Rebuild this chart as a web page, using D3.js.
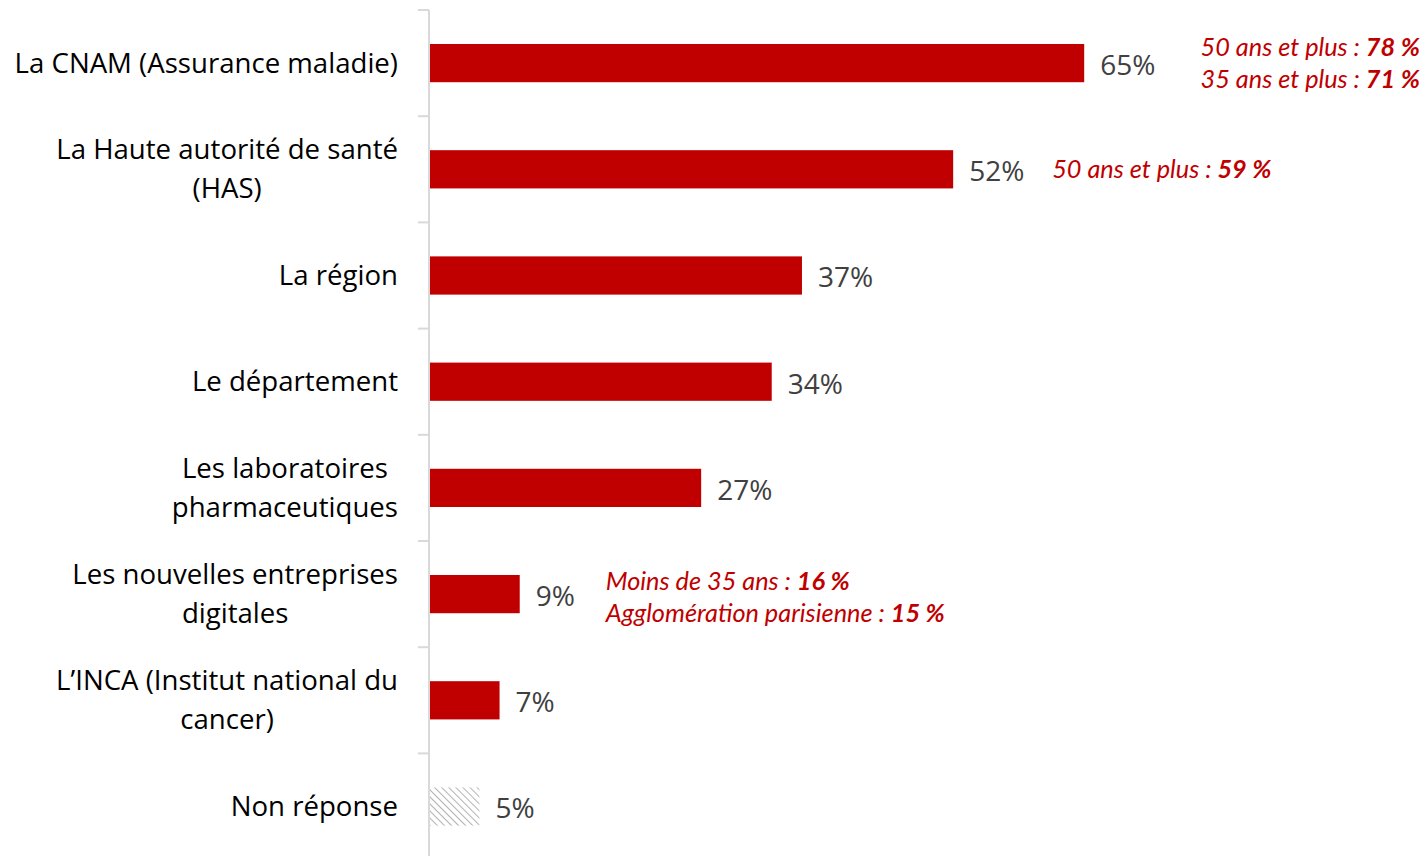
<!DOCTYPE html>
<html>
<head>
<meta charset="utf-8">
<script src="https://cdn.jsdelivr.net/npm/d3@7"></script>
<style>
	body { margin: 0; background: #fff; }
	.catLabel { font-family: "Open Sans", sans-serif; font-size: 27.6px; fill: #000; }
	.valLabel { font-family: "Open Sans", sans-serif; font-size: 28px; fill: #404040; }
	.note { font-family: Lato, sans-serif; font-style: italic; font-size: 25.3px; fill: #c00000; }
</style>
</head>
<body>
<div id="chart"></div>
<script>
	//Data
	var categories = [
		["La CNAM (Assurance maladie)"],
		["La Haute autorité de santé", "(HAS)"],
		["La région"],
		["Le département"],
		["Les laboratoires", "pharmaceutiques"],
		["Les nouvelles entreprises", "digitales"],
		["L\u2019INCA (Institut national du", "cancer)"],
		["Non réponse"]
	];
	var values = [65, 52, 37, 34, 27, 9, 7, 5];
	var noAnswerIndex = 7;

	var noteCats = [0, 1, 5];
	var noteLines = [
		[["50 ans et plus : ", "78 %"], ["35 ans et plus : ", "71 %"]],
		[["50 ans et plus : ", "59 %"]],
		[["Moins de 35 ans : ", "16 %"], ["Agglomération parisienne : ", "15 %"]]
	];

	var width = 1425, height = 856;
	var axisX = 429;
	var labelRight = 398;

	var svg = d3.select("#chart").append("svg")
		.attr("width", width)
		.attr("height", height);

	//Hatch pattern for "Non réponse"
	var pattern = svg.append("defs").append("pattern")
		.attr("id", "hatch")
		.attr("patternUnits", "userSpaceOnUse")
		.attr("width", 5).attr("height", 5)
		.attr("patternTransform", "rotate(-45)");
	pattern.append("rect").attr("width", 5).attr("height", 5).attr("fill", "#fff");
	pattern.append("line")
		.attr("x1", 0).attr("y1", 0).attr("x2", 0).attr("y2", 5)
		.attr("stroke", "#a0a0a0").attr("stroke-width", 1.6);

	var x = d3.scaleLinear().domain([0, 100]).range([axisX, axisX + 1008]);
	var y = d3.scaleBand()
		.domain(d3.range(categories.length))
		.range([10, 10 + 106.2 * categories.length])
		.paddingInner(0.64).paddingOuter(0.32);

	//Axis line + ticks at category boundaries
	var step = y.step();
	svg.append("line")
		.attr("x1", axisX).attr("x2", axisX)
		.attr("y1", 10).attr("y2", height)
		.attr("stroke", "#d9d9d9").attr("stroke-width", 2);
	svg.selectAll(".tick")
		.data(d3.range(categories.length))
		.enter().append("line")
		.attr("x1", axisX - 11).attr("x2", axisX)
		.attr("y1", function(d) { return 10 + d * step; })
		.attr("y2", function(d) { return 10 + d * step; })
		.attr("stroke", "#d9d9d9").attr("stroke-width", 2);

	//Bars
	svg.selectAll(".bar")
		.data(values)
		.enter().append("rect")
		.attr("x", x(0) + 1)
		.attr("y", function(d, i) { return y(i); })
		.attr("width", function(d) { return x(d) - x(0) - 1; })
		.attr("height", y.bandwidth())
		.attr("fill", function(d, i) { return i === noAnswerIndex ? "url(#hatch)" : "#c00000"; });

	//Value labels
	svg.selectAll(".valLabel")
		.data(values)
		.enter().append("text")
		.attr("class", "valLabel")
		.attr("x", function(d) { return x(d) + 16; })
		.attr("y", function(d, i) { return y(i) + y.bandwidth() / 2 + 2; })
		.attr("dy", "0.35em")
		.text(function(d) { return d + "%"; });

	//Category labels: lines centred on each other, block right-aligned
	var lineH = 39;
	svg.selectAll(".catLabel")
		.data(categories)
		.enter().append("text")
		.attr("class", "catLabel")
		.attr("text-anchor", "middle")
		.each(function(d, i) {
			var cy = y(i) + y.bandwidth() / 2;
			var t = d3.select(this);
			var spans = d.map(function(line, j) {
				return t.append("tspan")
					.attr("y", cy + (j - (d.length - 1) / 2) * lineH)
					.attr("dy", "0.35em")
					.text(line);
			});
			var maxW = d3.max(spans, function(s) { return s.node().getComputedTextLength(); });
			spans.forEach(function(s) { s.attr("x", labelRight - maxW / 2); });
		});

	//Sub-group notes: first one right-aligned to the edge, others after the value label
	var noteH = 32;
	noteCats.forEach(function(c, k) {
		var lines = noteLines[k];
		var cy = y(c) + y.bandwidth() / 2 + (k === 2 ? 3 : 0);
		var right = k === 0;
		var nx = right ? 1420 : x(values[c]) + (k === 1 ? 99 : 86);
		lines.forEach(function(line, j) {
			var t = svg.append("text")
				.attr("class", "note")
				.attr("x", nx)
				.attr("y", cy + (j - (lines.length - 1) / 2) * noteH)
				.attr("dy", "0.35em")
				.attr("text-anchor", right ? "end" : "start");
			t.append("tspan").text(line[0]);
			t.append("tspan").style("font-weight", "bold").text(line[1]);
		});
	});
</script>
</body>
</html>
